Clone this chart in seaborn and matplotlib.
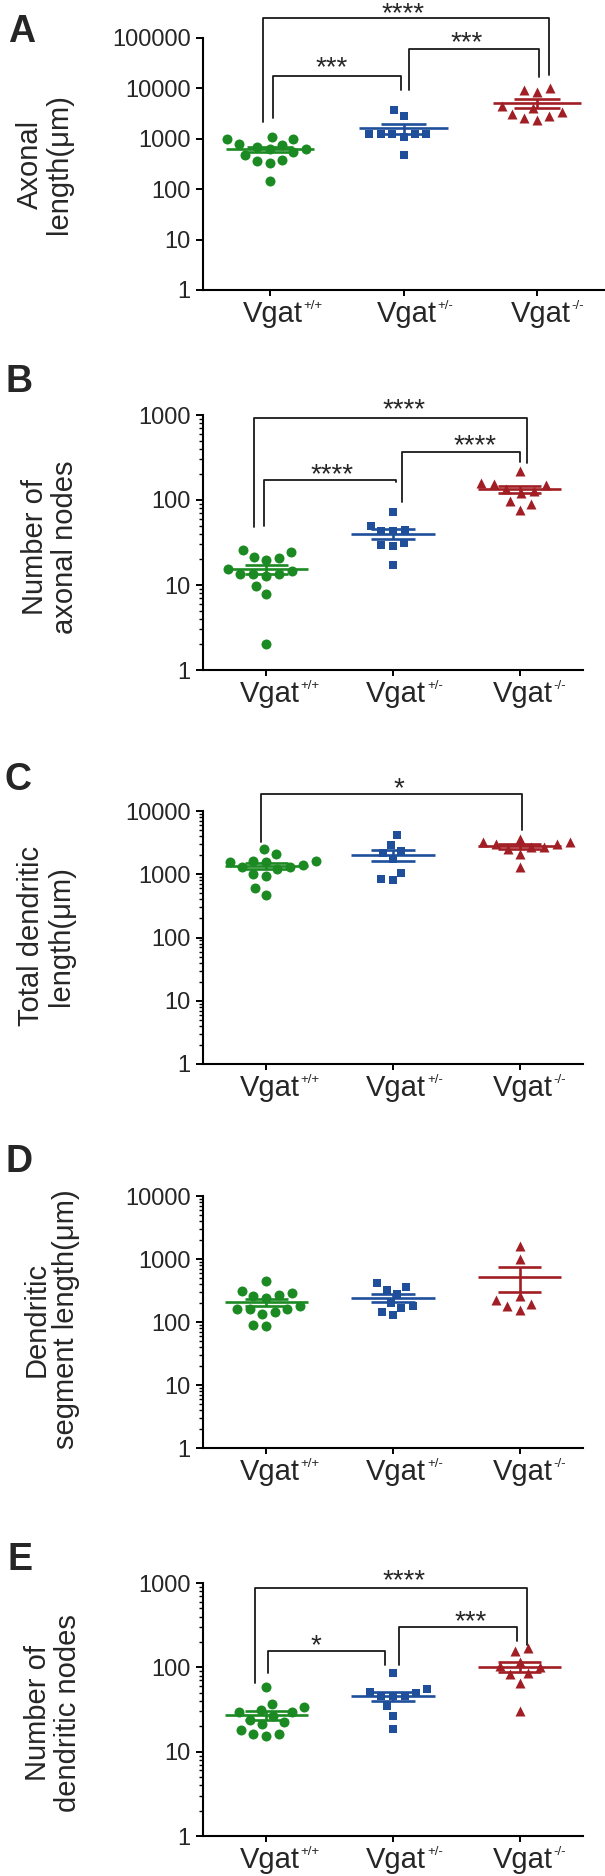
import numpy as np
import pandas as pd
import seaborn as sns
import matplotlib.pyplot as plt
from matplotlib.ticker import FixedLocator, FixedFormatter, LogLocator, NullFormatter

# genotype groups and their tick labels
groups = ["Vgat+/+", "Vgat+/-", "Vgat-/-"]
tick_base = "Vgat"
tick_sup = ["+/+", "+/-", "-/-"]
colors = ["#1c8a22", "#1f4f9a", "#a11e24"]
markers = ["o", "s", "^"]

# A: axonal length (um)
axon_len_wt = [970, 775, 690, 740, 970, 1080, 615, 615, 471, 548, 365, 333, 387, 146]
axon_len_het = [2870, 3760, 1250, 1250, 1250, 1080, 1250, 1250, 471]
axon_len_ko = [9270, 8600, 10300, 4500, 4060, 3480, 2870, 2360, 2540, 3090]

# B: number of axonal nodes
axon_nodes_wt = [24.5, 25.6, 20.6, 19.5, 21.4, 14.6, 15.6, 13.4, 12.8, 13.6, 13.6, 9.7, 7.8, 2.0]
axon_nodes_het = [71.4, 42.7, 44.7, 49.8, 43.4, 29.4, 28.9, 31.0, 17.2]
axon_nodes_ko = [218, 159, 154, 150, 98, 90, 77, 120, 129, 135]

# C: total dendritic length (um)
dend_len_wt = [2095, 2520, 1540, 1540, 1640, 1640, 1400, 1280, 1280, 1200, 1025, 940, 596, 478]
dend_len_het = [4120, 2920, 2150, 2370, 1740, 1065, 802, 852]
dend_len_ko = [3220, 3030, 2745, 2680, 2095, 3030, 3220, 3640, 1310, 2520]

# D: dendritic segment length (um)
seg_len_wt = [287, 254, 316, 444, 239, 273, 177, 162, 162, 162, 144, 132, 86, 89]
seg_len_het = [413, 324, 280, 365, 200, 168, 127, 144, 177]
seg_len_ko = [1625, 1000, 254, 194, 153, 177, 226]

# E: number of dendritic nodes
dend_nodes_wt = [59.2, 33.7, 37.0, 29.4, 26.3, 24.0, 29.4, 31.0, 21.3, 22.3, 16.3, 15.4, 16.3, 18.2]
dend_nodes_het = [85.5, 55, 49.2, 45.7, 45.7, 45.7, 51, 34.7, 26.8, 18.5]
dend_nodes_ko = [158, 169, 105, 115, 100, 83, 85.5, 66, 30.2]

sns.set_theme(style="ticks")
plt.rcParams["font.family"] = ["Liberation Sans", "DejaVu Sans"]

W, H = 605, 1876
fig = plt.figure(figsize=(W / 100, H / 100), dpi=100)

# (letter, values, ymax decade, ylabel, axes box px [l, r, t, b], letter pos, ylabel centre, brackets)
panels = [
    ("A", [axon_len_wt, axon_len_het, axon_len_ko], 5, "Axonal\nlength(μm)",
     (203, 604, 38, 290), (8, 14), (44, 164),
     [(-0.05, 2.09, 2.5e5, 2200, 18700, "****", 1.0, 4.3e5),
      (0.02, 0.98, 17800, 2570, 9400, "***", 0.46, 37000),
      (1.04, 2.01, 60000, 9100, 16800, "***", 1.47, 117000)]),
    ("B", [axon_nodes_wt, axon_nodes_het, axon_nodes_ko], 3, "Number of\naxonal nodes",
     (203, 583, 415, 670), (6, 364), (50, 547),
     [(-0.10, 2.06, 910, 48.5, 270, "****", 1.09, 1435),
      (-0.02, 1.02, 172, 50, 164, "****", 0.52, 245),
      (1.07, 2.0, 370, 95, 282, "****", 1.65, 531)]),
    ("C", [dend_len_wt, dend_len_het, dend_len_ko], 4, "Total dendritic\nlength(μm)",
     (203, 583, 811, 1064), (4, 762), (46, 936),
     [(-0.04, 2.02, 18800, 3240, 5070, "*", 1.05, 30200)]),
    ("D", [seg_len_wt, seg_len_het, seg_len_ko], 4, "Dendritic\nsegment length(μm)",
     (203, 583, 1196, 1448), (6, 1144), (51, 1319), []),
    ("E", [dend_nodes_wt, dend_nodes_het, dend_nodes_ko], 3, "Number of\ndendritic nodes",
     (203, 583, 1583, 1836), (8, 1542), (53, 1713),
     [(-0.09, 2.06, 865, 65, 186, "****", 1.09, 1318),
      (0.01, 0.94, 155, 86, 108, "*", 0.39, 224),
      (1.05, 1.98, 300, 108, 204, "***", 1.61, 431)]),
]

sizes = [7.2, 6.4, 7.2]
spread = 1.25  # swarm spacing relative to marker size (GraphPad-like spacing)

for letter, vals, ymax, ylabel, box, lpos, ycen, brackets in panels:
    l, r, t, b = box
    ax = fig.add_axes([l / W, 1 - b / H, (r - l) / W, (b - t) / H])
    ax.set_yscale("log")
    ax.set_ylim(1, 10 ** ymax)
    df = pd.DataFrame({"group": np.repeat(groups, [len(v) for v in vals]),
                       "value": np.concatenate(vals)})
    for g, c, m, s in zip(groups, colors, markers, sizes):
        sns.swarmplot(data=df[df.group == g], x="group", y="value", order=groups,
                      color=c, marker=m, size=s * spread, log_scale=True, ax=ax, zorder=3)

    # mean +/- SEM
    for i, (v, c) in enumerate(zip(vals, colors)):
        v = np.asarray(v, dtype=float)
        mu = v.mean()
        se = v.std(ddof=1) / np.sqrt(len(v))
        ax.hlines(mu, i - 0.33, i + 0.33, color=c, lw=1.9, zorder=4)
        ax.hlines([mu - se, mu + se], i - 0.17, i + 0.17, color=c, lw=1.9, zorder=4)
        ax.vlines(i, mu - se, mu + se, color=c, lw=1.9, zorder=4)

    ax.set_ylim(1, 10 ** ymax)
    ax.set_xlim(-0.5, 2.5)
    major = [10 ** k for k in range(ymax + 1)]
    ax.yaxis.set_major_locator(FixedLocator(major))
    ax.yaxis.set_major_formatter(FixedFormatter([str(int(v)) for v in major]))
    ax.yaxis.set_minor_locator(LogLocator(base=10, subs=np.arange(2, 10)))
    ax.yaxis.set_minor_formatter(NullFormatter())
    ax.set_xticks([0, 1, 2])
    ax.set_xticklabels([])
    ax.set_xlabel("")
    ax.set_ylabel("")
    ax.tick_params(axis="y", which="major", labelsize=17, length=5, width=1.4, pad=4, color="black")
    ax.tick_params(axis="y", which="minor", length=2.8, width=1.0, color="black")
    ax.tick_params(axis="x", which="major", length=4.5, width=1.4, color="black")
    for side in ["top", "right"]:
        ax.spines[side].set_visible(False)
    for side in ["left", "bottom"]:
        ax.spines[side].set_linewidth(1.5)
        ax.spines[side].set_color("black")
    ax.set_facecolor("white")

    # category labels: "Vgat" with a small superscript genotype
    for i, sup in enumerate(tick_sup):
        ax.annotate(tick_base, (i, 0), xycoords=ax.get_xaxis_transform(),
                    xytext=(24, -7.2), textcoords="offset points",
                    ha="right", va="top", fontsize=21, annotation_clip=False)
        ax.annotate(sup, (i, 0), xycoords=ax.get_xaxis_transform(),
                    xytext=(24.5, -7.2), textcoords="offset points",
                    ha="left", va="top", fontsize=9.5, annotation_clip=False)

    # significance brackets
    for x0, x1, ytop, y0, y1, lab, tx, ty in brackets:
        ax.plot([x0, x0, x1, x1], [y0, ytop, ytop, y1], color="#1a1a1a", lw=1.3,
                clip_on=False, zorder=5)
        ax.annotate(lab, (tx, ty), xytext=(0, -6), textcoords="offset points",
                    ha="center", va="center", fontsize=20, annotation_clip=False)

    fig.text(ycen[0] / W, 1 - ycen[1] / H, ylabel, rotation=90, ha="center", va="center",
             multialignment="center", linespacing=1.05, fontsize=21)
    fig.text(lpos[0] / W, 1 - lpos[1] / H, letter, ha="left", va="top",
             fontsize=27, fontweight="bold")

# lay out the swarms once with wider spacing, then freeze them and shrink the markers
fig.canvas.draw()
for ax in fig.axes:
    for coll in ax.collections:
        if "draw" in coll.__dict__:
            del coll.draw
            coll.set_sizes(coll.get_sizes() / spread ** 2)

fig.savefig("out.png", dpi=100, facecolor="white")
